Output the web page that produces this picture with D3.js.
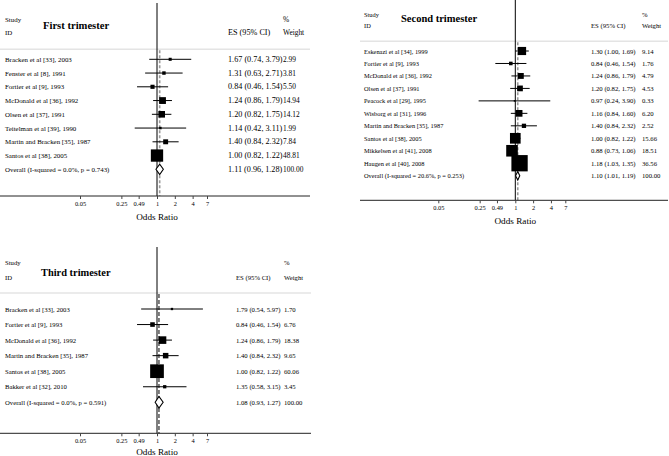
<!DOCTYPE html>
<html><head><meta charset="utf-8">
<script src="https://cdn.jsdelivr.net/npm/d3@7"></script>
<style>body{margin:0;background:#fff}svg{display:block}text{font-family:"Liberation Serif","Times New Roman",serif;fill:#000}</style>
</head><body><svg id="c" width="669" height="456"></svg>
<script>
// ---- data ----
const tickValues = [0.05, 0.25, 0.49, 1, 2, 4, 7];
const tickLabels = ["0.05", "0.25", "0.49", "1", "2", "4", "7"];

const studies1 = ["Bracken et al [33], 2003","Fenster et al [8], 1991","Fortier et al [9], 1993","McDonald et al [36], 1992","Olsen et al [37], 1991","Teitelman et al [39], 1990","Martin and Bracken [35], 1987","Santos et al [38], 2005"];
const es1 = [1.67, 1.31, 0.84, 1.24, 1.20, 1.14, 1.40, 1.00];
const lo1 = [0.74, 0.63, 0.46, 0.86, 0.82, 0.42, 0.84, 0.82];
const hi1 = [3.79, 2.71, 1.54, 1.79, 1.75, 3.11, 2.32, 1.22];
const wt1 = [2.99, 3.81, 5.50, 14.94, 14.12, 1.99, 7.84, 48.81];
const overall1 = {label: "Overall  (I-squared = 0.0%, p = 0.743)", es: 1.11, lo: 0.96, hi: 1.28, w: 100.00};

const studies2 = ["Eskenazi et al [34], 1999","Fortier et al [9], 1993","McDonald et al [36], 1992","Olsen et al [37], 1991","Peacock et al [29], 1995","Wisborg et al [31], 1996","Martin and Bracken [35], 1987","Santos et al [38], 2005","Mikkelsen et al [41], 2008","Haugen et al [40], 2008"];
const es2 = [1.30, 0.84, 1.24, 1.20, 0.97, 1.16, 1.40, 1.00, 0.88, 1.18];
const lo2 = [1.00, 0.46, 0.86, 0.82, 0.24, 0.84, 0.84, 0.82, 0.73, 1.03];
const hi2 = [1.69, 1.54, 1.79, 1.75, 3.90, 1.60, 2.32, 1.22, 1.06, 1.35];
const wt2 = [9.14, 1.76, 4.79, 4.53, 0.33, 6.20, 2.52, 15.66, 18.51, 36.56];
const overall2 = {label: "Overall  (I-squared = 20.6%, p = 0.253)", es: 1.10, lo: 1.01, hi: 1.19, w: 100.00};

const studies3 = ["Bracken et al [33], 2003","Fortier et al [9], 1993","McDonald et al [36], 1992","Martin and Bracken [35], 1987","Santos et al [38], 2005","Bakker et al [32], 2010"];
const es3 = [1.79, 0.84, 1.24, 1.40, 1.00, 1.35];
const lo3 = [0.54, 0.46, 0.86, 0.84, 0.82, 0.58];
const hi3 = [5.97, 1.54, 1.79, 2.32, 1.22, 3.15];
const wt3 = [1.70, 6.76, 18.38, 9.65, 60.06, 3.45];
const overall3 = {label: "Overall  (I-squared = 0.0%, p = 0.591)", es: 1.08, lo: 0.93, hi: 1.27, w: 100.00};

const titles = ["First trimester", "Second trimester", "Third trimester"];

// ---- layout ----
const svg = d3.select("#c");
const f2 = d3.format(".2f");
const K = 25.7; // px per ln unit

function panel(cfg, title, studies, es, lo, hi, wt, ov) {
  const g = svg.append("g");
  const x = d3.scaleLog().domain([0.05, 7])
    .range([cfg.refX + K*Math.log(0.05), cfg.refX + K*Math.log(7)]);
  const n = studies.length;
  const y = d3.scaleLinear().domain([0, n]).range([cfg.rowStart, cfg.rowStart + n*cfg.step]);
  const side = d3.scaleSqrt().domain([0, d3.max(wt)]).range([0, cfg.maxSide]);

  // header
  g.append("text").attr("x", cfg.labX).attr("y", cfg.studyY).attr("dominant-baseline","central")
    .style("font-size", cfg.labFs+"px").text("Study");
  g.append("text").attr("x", cfg.labX).attr("y", cfg.idY).attr("dominant-baseline","central")
    .style("font-size", cfg.labFs+"px").text("ID");
  g.append("text").attr("x", cfg.titleX).attr("y", cfg.titleY).attr("dominant-baseline","central")
    .style("font-size", cfg.titleFs+"px").style("font-weight","bold").text(title);
  g.append("text").attr("x", cfg.wX).attr("y", cfg.studyY).attr("dominant-baseline","central")
    .style("font-size", cfg.wFs+"px").text("%");
  g.append("text").attr("x", cfg.esX).attr("y", cfg.idY).attr("dominant-baseline","central")
    .style("font-size", cfg.esFs+"px").text("ES (95% CI)");
  g.append("text").attr("x", cfg.wX).attr("y", cfg.idY).attr("dominant-baseline","central")
    .style("font-size", cfg.wFs+"px").text("Weight");

  // separator
  g.append("line").attr("x1", cfg.axX0).attr("x2", cfg.axX1).attr("y1", cfg.sepY).attr("y2", cfg.sepY)
    .attr("stroke", "#e4e4e4").attr("stroke-width", 1.5);

  // overall dashed line
  g.append("line").attr("x1", x(ov.es)).attr("x2", x(ov.es)).attr("y1", cfg.sepY + 1).attr("y2", cfg.axisY)
    .attr("stroke", cfg.dashColor).attr("stroke-width", cfg.dashW).attr("stroke-dasharray", cfg.dash);

  // null line
  g.append("line").attr("x1", x(1)).attr("x2", x(1)).attr("y1", cfg.top).attr("y2", cfg.axisY)
    .attr("stroke", "#000").attr("stroke-width", 1);

  // CI lines
  const idx = d3.range(n);
  g.selectAll(".ci").data(idx).join("line")
    .attr("x1", i => x(lo[i])).attr("x2", i => x(hi[i]))
    .attr("y1", i => y(i)).attr("y2", i => y(i))
    .attr("stroke", "#000").attr("stroke-width", 1);
  // boxes
  g.selectAll(".box").data(idx).join("rect")
    .attr("x", i => x(es[i]) - side(wt[i])/2).attr("y", i => y(i) - side(wt[i])/2)
    .attr("width", i => side(wt[i])).attr("height", i => side(wt[i]))
    .attr("fill", "#000");
  // diamond
  const yo = y(n);
  g.append("path")
    .attr("d", `M${x(ov.lo)},${yo} L${x(ov.es)},${yo - cfg.dh} L${x(ov.hi)},${yo} L${x(ov.es)},${yo + cfg.dh} Z`)
    .attr("fill", "#fff").attr("stroke", "#000").attr("stroke-width", 1.1);

  // labels
  const labels = studies.concat([ov.label]);
  const esAll = es.concat([ov.es]), loAll = lo.concat([ov.lo]), hiAll = hi.concat([ov.hi]), wAll = wt.concat([ov.w]);
  g.selectAll(".lab").data(labels).join("text")
    .attr("x", cfg.labX).attr("y", (d, i) => y(i)).attr("dominant-baseline","central")
    .style("font-size", cfg.labFs+"px").text(d => d);
  g.selectAll(".es").data(esAll).join("text")
    .attr("x", cfg.esX).attr("y", (d, i) => y(i)).attr("dominant-baseline","central")
    .style("font-size", cfg.esFs+"px")
    .text((d, i) => `${f2(d)} (${f2(loAll[i])}, ${f2(hiAll[i])})`);
  g.selectAll(".w").data(wAll).join("text")
    .attr("x", cfg.wX).attr("y", (d, i) => y(i)).attr("dominant-baseline","central")
    .style("font-size", cfg.wFs+"px").text(d => f2(d));

  // axis
  g.append("line").attr("x1", cfg.axX0).attr("x2", cfg.axX1).attr("y1", cfg.axisY).attr("y2", cfg.axisY)
    .attr("stroke", "#222").attr("stroke-width", 1);
  const ax = g.append("g").attr("transform", `translate(0,${cfg.axisY})`)
    .call(d3.axisBottom(x).tickValues(tickValues).tickFormat((d, i) => tickLabels[i]).tickSize(3).tickPadding(2.5));
  ax.select(".domain").remove();
  ax.selectAll("line").attr("stroke", "#444");
  ax.selectAll("text").style("font-size", "6.4px").style("font-family", '"Liberation Serif",serif');
  g.append("text").attr("x", x(1)).attr("y", cfg.orY).attr("dominant-baseline","central").attr("text-anchor","middle")
    .style("font-size", "9.2px").text("Odds Ratio");
}

panel({refX:157, axX0:0, axX1:310, top:3, axisY:196, orY:216.5, labX:5, studyY:19, idY:32.7, titleX:43, titleY:25,
       titleFs:10.6, labFs:6.9, esFs:8.2, wFs:7.4, esX:228, wX:283, sepY:49.3, rowStart:59.3, step:13.75,
       maxSide:12.3, dh:5.2, dashColor:"#999", dashW:1.6, dash:"3,2"},
      titles[0], studies1, es1, lo1, hi1, wt1, overall1);

panel({refX:515.3, axX0:360, axX1:668, top:0, axisY:200.3, orY:221, labX:364, studyY:14, idY:25.5, titleX:401, titleY:18.5,
       titleFs:10.5, labFs:6.4, esFs:6.7, wFs:6.7, esX:591, wX:642, sepY:41.3, rowStart:51, step:12.47,
       maxSide:16.3, dh:4.2, dashColor:"#999", dashW:1.6, dash:"3,2"},
      titles[1], studies2, es2, lo2, hi2, wt2, overall2);

panel({refX:157, axX0:0, axX1:311, top:247, axisY:433.3, orY:452, labX:5, studyY:262, idY:277.5, titleX:41, titleY:272,
       titleFs:10.4, labFs:6.7, esFs:6.7, wFs:6.7, esX:236, wX:284, sepY:293, rowStart:309, step:15.55,
       maxSide:13.7, dh:5.8, dashColor:"#000", dashW:1, dash:"4,2"},
      titles[2], studies3, es3, lo3, hi3, wt3, overall3);
</script></body></html>
